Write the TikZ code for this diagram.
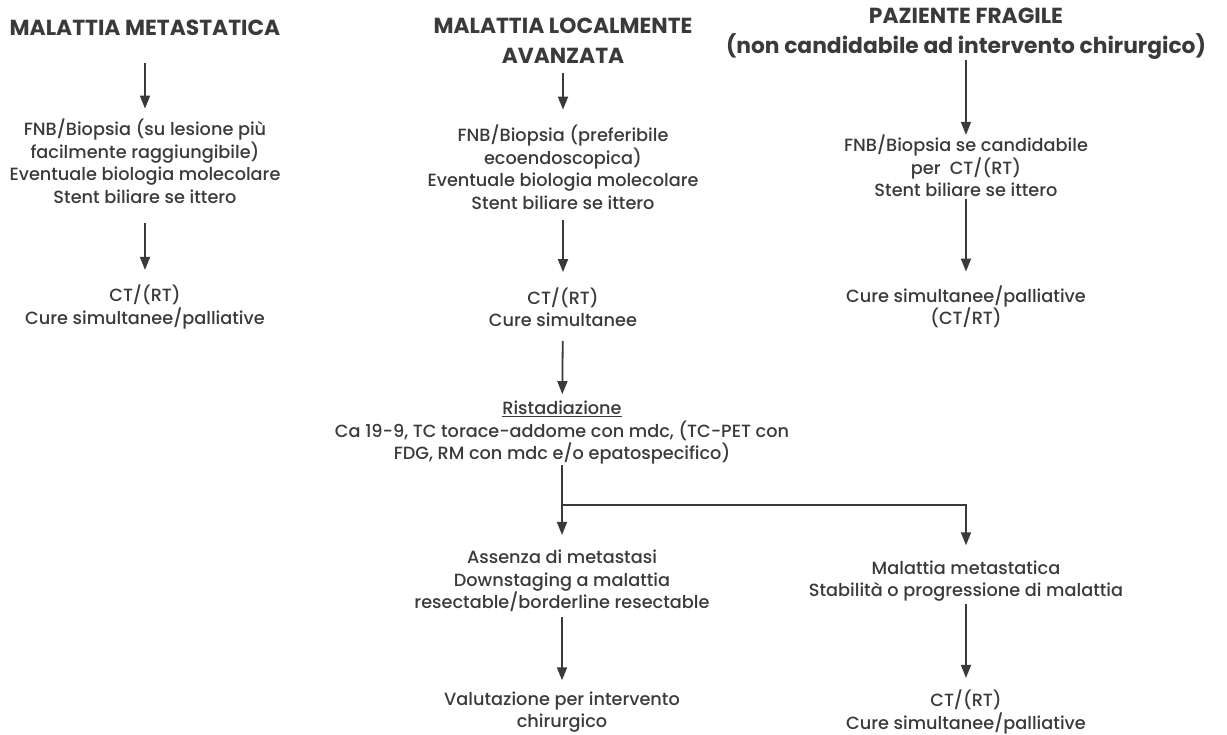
\documentclass[tikz,border=0pt]{standalone}
\usepackage{fontspec}
\setmainfont{Poppins}
\newfontfamily\bodyfont{Poppins Medium}
\usetikzlibrary{arrows.meta,positioning}
\definecolor{inkgray}{HTML}{3A3A3A}

\tikzset{
    head/.style={align=center, inner sep=0pt, text=inkgray,
        font=\fontsize{21.8}{30}\selectfont\bfseries},
    txt/.style={align=center, inner sep=0pt, text=inkgray,
        font=\bodyfont\fontsize{17.7}{22.5}\selectfont},
    flow/.style={draw=inkgray, line width=1.8pt,
        -{Triangle[length=13pt,width=10pt]}},
}

\begin{document}
\begin{tikzpicture}[x=1pt,y=1pt]
        \useasboundingbox (0,0) rectangle (1227,-735);

        \node[head] (hmeta) at (145,-28) {MALATTIA METASTATICA};
        \node[head] (hloc) at (563,-41) {MALATTIA LOCALMENTE\\AVANZATA};
        \node[head] (hfrag) at (966,-34) {PAZIENTE FRAGILE\\(non candidabile ad intervento chirurgico)};

        \node[txt] (bio1) at (145,-161) {FNB/Biopsia (su lesione più\\facilmente raggiungibile)\\Eventuale biologia molecolare\\Stent biliare se ittero};
        \node[txt] (ct1) at (145,-307) {CT/(RT)\\Cure simultanee/palliative};

        \node[txt] (bio2) at (563,-167) {FNB/Biopsia (preferibile\\ecoendoscopica)\\Eventuale biologia molecolare\\Stent biliare se ittero};
        \node[txt] (ct2) at (563,-307) {CT/(RT)\\Cure simultanee};
        \node[txt] (rist) at (562,-433) {\underline{Ristadiazione}\\Ca 19-9, TC torace-addome con mdc, (TC-PET con\\FDG, RM con mdc e/o epatospecifico)};

        \node[txt] (assenza) at (562,-581) {Assenza di metastasi\\Downstaging a malattia\\resectable/borderline resectable};
        \node[txt] (val) at (562,-712) {Valutazione per intervento\\chirurgico};
        \node[txt] (metast) at (966,-581) {Malattia metastatica\\Stabilità o progressione di malattia};
        \node[txt] (ct4) at (966,-712) {CT/(RT)\\Cure simultanee/palliative};

        \node[txt] (bio3) at (966,-166) {FNB/Biopsia se candidabile\\per~ CT/(RT)\\Stent biliare se ittero};
        \node[txt] (cure3) at (966,-307) {Cure simultanee/palliative\\(CT/RT)};

        \coordinate (split) at (562,-505);

        \draw[flow, shorten <=27pt, shorten >=10pt] (hmeta) -- (bio1);
        \draw[flow, shorten <=20pt, shorten >=15pt] (bio1) -- (ct1);
        \draw[flow, shorten <=9pt, shorten >=15pt] (hloc) -- (bio2);
        \draw[flow, shorten <=11pt, shorten >=15pt] (bio2) -- (ct2);
        \draw[flow, shorten <=14pt, shorten >=7pt] (ct2) -- (rist);
        \draw[flow, shorten >=15pt] (rist) -- (assenza);
        \draw[flow, shorten >=15pt] (split) -| (metast);
        \draw[flow, shorten <=5pt, shorten >=11pt] (assenza) -- (val);
        \draw[flow, shorten <=2pt, shorten >=12pt] (metast) -- (ct4);
        \draw[flow] (hfrag) -- (bio3);
        \draw[flow, shorten <=2pt, shorten >=14pt] (bio3) -- (cure3);
\end{tikzpicture}
\end{document}
